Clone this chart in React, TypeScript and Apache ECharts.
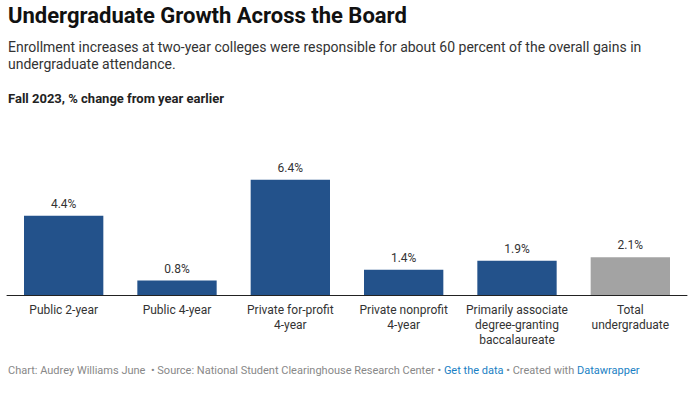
import React, { useEffect, useRef } from "react";
import * as echarts from "echarts";

const categories = [
  "Public 2-year",
  "Public 4-year",
  "Private for-profit\n4-year",
  "Private nonprofit\n4-year",
  "Primarily associate\ndegree-granting\nbaccalaureate",
  "Total\nundergraduate",
];
const values = [4.4, 0.8, 6.4, 1.4, 1.9, 2.1];
const barColors = ["#23528b", "#23528b", "#23528b", "#23528b", "#23528b", "#a3a3a3"];

const titleText = "Undergraduate Growth Across the Board";
const subtitleText =
  "Enrollment increases at two-year colleges were responsible for about 60 percent of the overall gains in\nundergraduate attendance.";
const descText = "Fall 2023, % change from year earlier";

const FONT = "Roboto, 'Noto Sans', sans-serif";

export default function App() {
  const ref = useRef<HTMLDivElement>(null);
  useEffect(() => {
    document.body.style.margin = "0";
    const chart = echarts.init(ref.current!, null, { renderer: "svg" });
    chart.setOption({
      animation: false,
      backgroundColor: "#ffffff",
      textStyle: { fontFamily: FONT },
      grid: { left: 7, right: 4, top: 151, bottom: 104, containLabel: false },
      xAxis: {
        type: "category",
        data: categories,
        axisLine: { show: true, lineStyle: { color: "#222", width: 1 } },
        axisTick: { show: false },
        axisLabel: {
          interval: 0,
          color: "#333",
          fontSize: 12,
          fontFamily: FONT,
          lineHeight: 15,
          margin: 7,
        },
      },
      yAxis: {
        type: "value",
        min: 0,
        max: 8,
        show: false,
        splitLine: { show: false },
      },
      series: [
        {
          type: "bar",
          barWidth: "70%",
          data: values.map((v, i) => ({ value: v, itemStyle: { color: barColors[i] } })),
          label: {
            show: true,
            position: "top",
            distance: 6,
            color: "#333",
            fontSize: 12,
            fontFamily: FONT,
            formatter: (p: any) => Number(p.value).toFixed(1) + "%",
          },
        },
      ],
      graphic: [
        {
          type: "text",
          left: 8,
          top: 4,
          style: { text: titleText, font: `bold 22px ${FONT}`, fill: "#111" },
        },
        {
          type: "text",
          left: 8,
          top: 38,
          style: { text: subtitleText, font: `14px ${FONT}`, fill: "#333", lineHeight: 17.5 },
        },
        {
          type: "text",
          left: 8,
          top: 92,
          style: { text: descText, font: `bold 13px ${FONT}`, fill: "#222" },
        },
        {
          type: "text",
          left: 8,
          top: 365,
          style: {
            text:
              "{g|Chart: Audrey Williams June  • Source: National Student Clearinghouse Research Center • }{b|Get the data}{g| • Created with }{b|Datawrapper}",
            font: `11px ${FONT}`,
            rich: {
              g: { fill: "#888", fontSize: 11, fontFamily: FONT },
              b: { fill: "#1a7fc4", fontSize: 11, fontFamily: FONT },
            },
          },
        },
      ],
    });
    return () => chart.dispose();
  }, []);
  return <div ref={ref} style={{ width: 691, height: 399 }} />;
}
